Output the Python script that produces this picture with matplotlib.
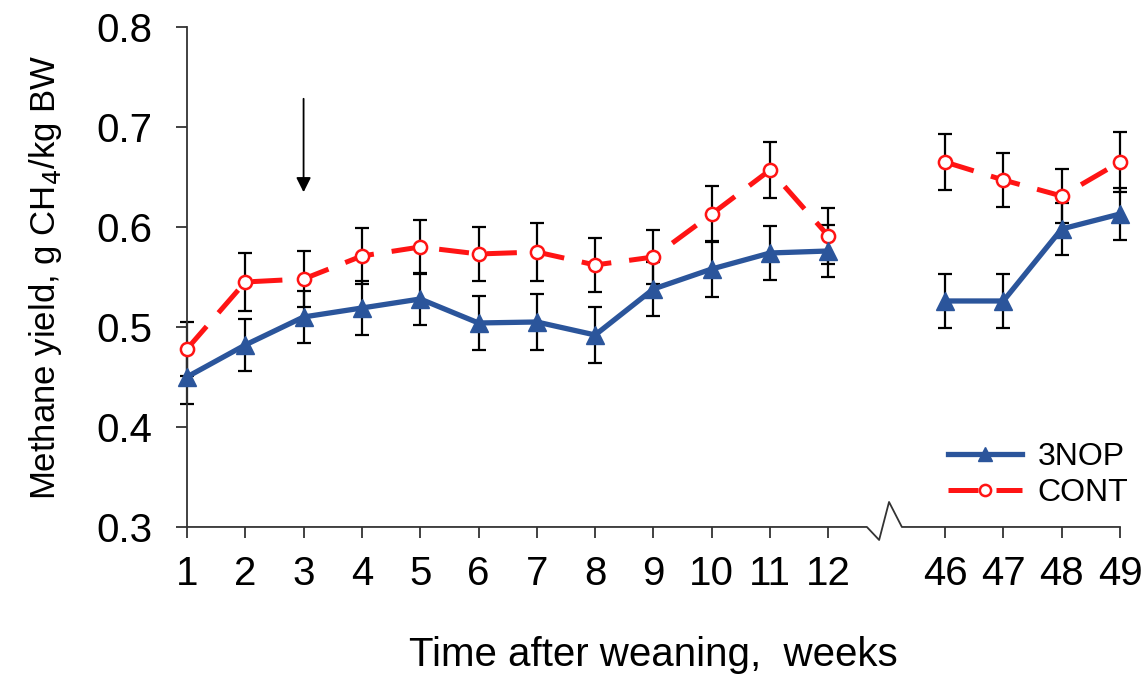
import matplotlib

matplotlib.use("Agg")

import matplotlib.pyplot as plt
import numpy as np

plt.rcParams["font.family"] = ["Liberation Sans", "DejaVu Sans"]

# weeks after weaning; a gap separates week 12 from week 46
weeks = ["1", "2", "3", "4", "5", "6", "7", "8", "9", "10", "11", "12", "46", "47", "48", "49"]
nop_mean = [0.450, 0.482, 0.510, 0.519, 0.528, 0.504, 0.505, 0.492, 0.538, 0.558, 0.574, 0.576,
            0.526, 0.526, 0.598, 0.613]
nop_se = [0.027, 0.026, 0.026, 0.027, 0.026, 0.027, 0.028, 0.028, 0.027, 0.028, 0.027, 0.026,
          0.027, 0.027, 0.026, 0.026]
cont_mean = [0.478, 0.545, 0.548, 0.571, 0.580, 0.573, 0.575, 0.562, 0.570, 0.613, 0.657, 0.591,
             0.665, 0.647, 0.631, 0.665]
cont_se = [0.027, 0.029, 0.028, 0.028, 0.027, 0.027, 0.029, 0.027, 0.027, 0.028, 0.028, 0.028,
           0.028, 0.027, 0.027, 0.030]

BLUE = "#2B559B"
RED = "#FF1414"
AXIS = "#333333"

pos = np.r_[np.arange(1, 13), np.arange(14, 18)]
segments = [slice(0, 12), slice(12, 16)]

fig = plt.figure(figsize=(11.42, 6.75), dpi=100)
ax = fig.add_axes([0.1637, 0.2193, 0.8170, 0.7407])

for sl in segments:
    ax.errorbar(pos[sl], nop_mean[sl], yerr=nop_se[sl], fmt="none", ecolor="black",
                elinewidth=1.6, capsize=5, capthick=1.6, zorder=2, clip_on=False)
    ax.errorbar(pos[sl], cont_mean[sl], yerr=cont_se[sl], fmt="none", ecolor="black",
                elinewidth=1.6, capsize=5, capthick=1.6, zorder=2, clip_on=False)

for i, sl in enumerate(segments):
    ax.plot(pos[sl], cont_mean[sl], color=RED, lw=3.6, ls=(0, (6, 3.6)), marker="o", ms=9.5,
            mfc="white", mec=RED, mew=1.8, zorder=3, clip_on=False,
            label="CONT" if i == 0 else None)
    ax.plot(pos[sl], nop_mean[sl], color=BLUE, lw=3.8, marker="^", ms=12.5, mfc=BLUE, mec=BLUE,
            zorder=4, clip_on=False, label="3NOP" if i == 0 else None)

ax.set_xlim(1, 17)
ax.set_ylim(0.3, 0.8)
ax.set_yticks(np.arange(0.3, 0.81, 0.1))
ax.set_yticklabels([f"{v:.1f}" for v in np.arange(0.3, 0.81, 0.1)])
ax.set_xticks(pos)
ax.set_xticklabels(weeks)
ax.tick_params(axis="both", labelsize=29, length=8, width=1.3, direction="out", color=AXIS)
ax.tick_params(axis="x", pad=12)
ax.tick_params(axis="y", pad=17)

for side in ["top", "right", "bottom"]:
    ax.spines[side].set_visible(False)
ax.spines["left"].set_linewidth(1.3)
ax.spines["left"].set_color(AXIS)

# bottom axis with a break mark between week 12 and week 46
bx = [1, 12.66, 12.87, 13.04, 13.26, 17]
by = [0.3, 0.3, 0.287, 0.325, 0.3, 0.3]
ax.plot(bx, by, color=AXIS, lw=1.3, clip_on=False, zorder=1)

# arrow marking week 3
ax.annotate("", xy=(3, 0.632), xytext=(3, 0.731),
            arrowprops=dict(arrowstyle="-|>", color="black", lw=1.3, mutation_scale=22))

ax.set_xlabel("Time after weaning,  weeks", fontsize=29, labelpad=31)
ax.set_ylabel("Methane yield, g CH$_4$/kg BW", fontsize=25, labelpad=23)

handles, labels = ax.get_legend_handles_labels()
order = [labels.index("3NOP"), labels.index("CONT")]
ax.legend([handles[i] for i in order], [labels[i] for i in order], loc="lower right",
          bbox_to_anchor=(1.04, -0.02), frameon=False, fontsize=23, handlelength=2.3,
          labelspacing=0.2, handletextpad=0.5, markerscale=0.85)

fig.savefig("out.png", dpi=100)
